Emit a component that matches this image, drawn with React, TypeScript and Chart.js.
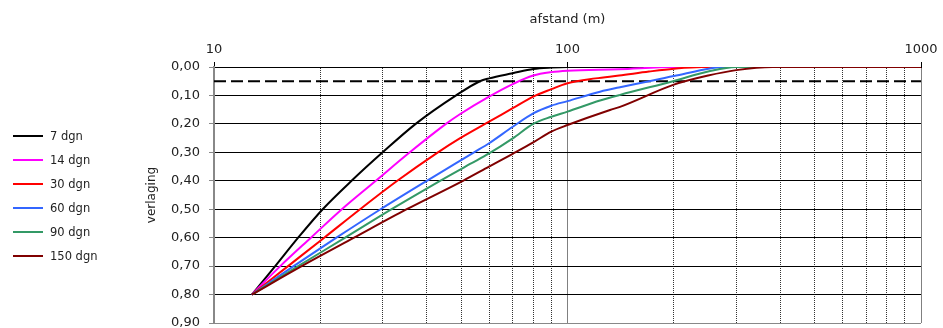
import React, { useEffect, useRef } from 'react';
import { Chart, registerables } from 'chart.js';

Chart.register(...registerables);

// ---- data ----
const seriesLabels = ['7 dgn', '14 dgn', '30 dgn', '60 dgn', '90 dgn', '150 dgn'];
const seriesColors = ['#000000', '#FF00FF', '#FF0000', '#3366FF', '#339966', '#800000'];

const dist7 = [12.8, 14.9, 17.3, 20.3, 24.5, 30, 37.2, 48.4, 56.5, 60, 70, 80, 90, 100, 1000];
const drop7 = [0.8, 0.7, 0.6, 0.5, 0.4, 0.3, 0.2, 0.1, 0.05, 0.04, 0.022, 0.007, 0.002, 0.0, 0.0];

const dist14 = [12.8, 15.4, 18.8, 23.0, 28.7, 35.8, 45.3, 49.6, 60, 70, 80, 90, 100, 140, 200, 1000];
const drop14 = [0.8, 0.7, 0.6, 0.5, 0.4, 0.3, 0.2, 0.166, 0.104, 0.06, 0.03, 0.018, 0.013, 0.008, 0.0, 0.0];

const dist30 = [12.8, 16.2, 20.5, 25.9, 33.0, 43.0, 49.7, 60, 70, 80, 90, 100, 120, 140, 170, 200, 240, 1000];
const drop30 = [0.8, 0.7, 0.6, 0.5, 0.4, 0.3, 0.25, 0.192, 0.145, 0.104, 0.078, 0.057, 0.04, 0.03, 0.016, 0.006, 0.0, 0.0];

const dist60 = [12.8, 16.8, 22.2, 29.6, 40, 54.4, 60, 70, 80, 90, 100, 123.6, 140.8, 200, 253, 275, 1000];
const drop60 = [0.8, 0.7, 0.6, 0.5, 0.4, 0.3, 0.268, 0.21, 0.163, 0.136, 0.12, 0.087, 0.071, 0.032, 0.005, 0.0, 0.0];

const dist90 = [12.8, 17.3, 23.5, 31.8, 43.6, 53, 60, 70, 80, 90, 100, 123.6, 140.8, 200, 250, 300, 1000];
const drop90 = [0.8, 0.7, 0.6, 0.5, 0.4, 0.341, 0.304, 0.251, 0.2, 0.175, 0.157, 0.118, 0.098, 0.049, 0.016, 0.0, 0.0];

const dist150 = [12.8, 17.7, 24.9, 35.1, 50.6, 60, 70, 80, 90, 100, 131.9, 140.8, 200, 250, 300, 380, 1000];
const drop150 = [0.8, 0.7, 0.6, 0.5, 0.4, 0.35, 0.305, 0.265, 0.227, 0.204, 0.151, 0.14, 0.062, 0.03, 0.011, 0.0, 0.0];

const seriesDist = [dist7, dist14, dist30, dist60, dist90, dist150];
const seriesDrop = [drop7, drop14, drop30, drop60, drop90, drop150];

const thresholdDist = [10, 1000];
const thresholdDrop = [0.05, 0.05];

const xGridValues = [10, 20, 30, 40, 50, 60, 70, 80, 90, 100, 200, 300, 400, 500, 600, 700, 800, 900, 1000];
const xLabelValues = [10, 100, 1000];
const yTickValues = [0, 0.1, 0.2, 0.3, 0.4, 0.5, 0.6, 0.7, 0.8, 0.9];

const FONT = "'DejaVu Sans', Verdana, sans-serif";
const TEXT = '#222222';

const isMajor = (v: number) => xLabelValues.some((m) => Math.abs(m - v) < 1e-6);

export default function App() {
  const ref = useRef<HTMLCanvasElement>(null);

  useEffect(() => {
    if (!ref.current) return;
    const datasets: any[] = seriesDist.map((xs, i) => ({
      label: seriesLabels[i],
      data: xs.map((x, j) => ({ x, y: seriesDrop[i][j] })),
      borderColor: seriesColors[i],
      backgroundColor: seriesColors[i],
      borderWidth: 2,
      pointRadius: 0,
      pointHoverRadius: 0,
      cubicInterpolationMode: 'monotone',
      order: seriesLabels.length - i,
    }));
    datasets.push({
      label: 'grens',
      data: thresholdDist.map((x, j) => ({ x, y: thresholdDrop[j] })),
      borderColor: '#000000',
      borderWidth: 2,
      borderDash: [12, 5],
      pointRadius: 0,
      order: 20,
    });

    const chart = new Chart(ref.current, {
      type: 'line',
      data: { datasets },
      options: {
        animation: false,
        responsive: true,
        maintainAspectRatio: false,
        layout: { padding: { left: 141, right: 22, top: 8, bottom: 5 } },
        plugins: { legend: { display: false }, tooltip: { enabled: false } },
        scales: {
          x: {
            type: 'logarithmic',
            position: 'top',
            min: 10,
            max: 1000,
            afterBuildTicks: (s: any) => {
              s.ticks = xGridValues.map((v) => ({ value: v }));
            },
            afterFit: (s: any) => {
              s.height = 59;
              s.paddingLeft = 0;
              s.paddingRight = 0;
            },
            ticks: {
              autoSkip: false,
              maxRotation: 0,
              minRotation: 0,
              padding: 5,
              color: TEXT,
              font: { family: FONT, size: 13 },
              callback: (v: any) => (isMajor(Number(v)) ? String(Number(v)) : ''),
            },
            grid: {
              color: (c: any) => (c.tick && isMajor(c.tick.value) ? '#808080' : '#333333'),
              lineWidth: 1,
              tickLength: 5,
              tickColor: (c: any) => (c.tick && isMajor(c.tick.value) ? '#000000' : 'rgba(0,0,0,0)'),
            },
            border: {
              color: '#000000',
              width: 1,
              dash: (c: any) => (c.tick && !isMajor(c.tick.value) ? [1, 1] : []),
            },
            title: {
              display: true,
              text: 'afstand (m)',
              color: TEXT,
              font: { family: FONT, size: 13 },
              padding: { top: 4, bottom: 4 },
            },
          } as any,
          y: {
            type: 'linear',
            reverse: true,
            min: 0,
            max: 0.9,
            afterBuildTicks: (s: any) => {
              s.ticks = yTickValues.map((v) => ({ value: v }));
            },
            afterFit: (s: any) => {
              s.width = 73;
              s.paddingTop = 0;
              s.paddingBottom = 0;
            },
            ticks: {
              padding: 9,
              color: TEXT,
              font: { family: FONT, size: 13 },
              callback: (v: any) => Number(v).toFixed(2).replace('.', ','),
            },
            grid: {
              color: (c: any) => (c.tick && c.tick.value > 0.89 ? '#888888' : '#000000'),
              lineWidth: 1,
              tickLength: 5,
              tickColor: '#888888',
            },
            border: { color: '#888888', width: 2 },
            title: {
              display: true,
              text: 'verlaging',
              color: TEXT,
              font: { family: FONT, size: 12 },
              padding: { top: 4, bottom: 4 },
            },
          } as any,
        },
      },
    });
    return () => chart.destroy();
  }, []);

  return (
    <div style={{ position: 'fixed', left: 0, top: 0, width: 943, height: 328, background: '#ffffff' }}>
      <div style={{ position: 'absolute', left: 0, top: 0, width: 943, height: 328 }}>
        <canvas ref={ref} />
      </div>
      <div
        style={{
          position: 'absolute',
          left: 13,
          top: 124,
          fontFamily: FONT,
          fontSize: 11.5,
          color: TEXT,
        }}
      >
        {seriesLabels.map((l, i) => (
          <div key={l} style={{ display: 'flex', alignItems: 'center', height: 24 }}>
            <span
              style={{
                display: 'inline-block',
                width: 30,
                height: 2,
                background: seriesColors[i],
                marginRight: 7,
              }}
            />
            <span>{l}</span>
          </div>
        ))}
      </div>
    </div>
  );
}
